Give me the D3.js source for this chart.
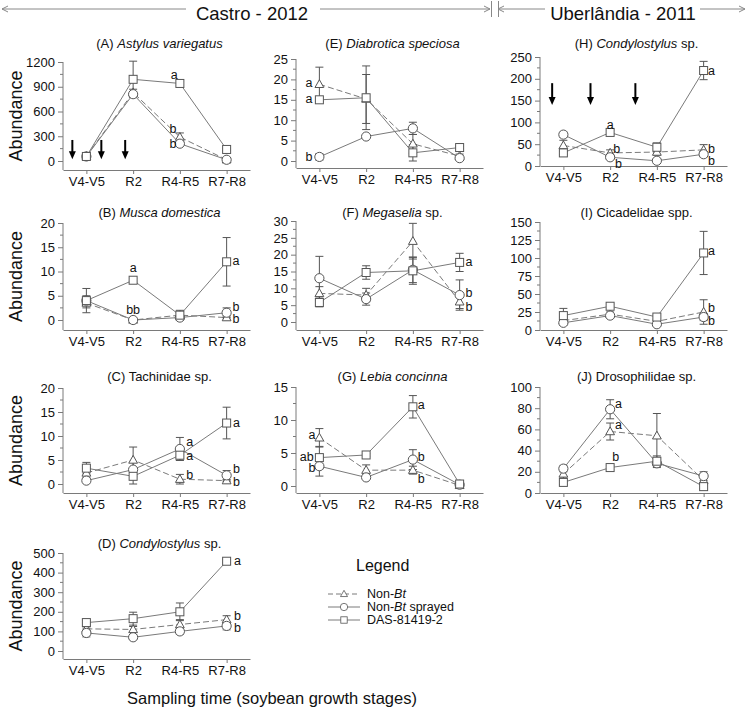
<!DOCTYPE html>
<html><head><meta charset="utf-8">
<script src="https://cdn.jsdelivr.net/npm/d3@7"></script>
<style>body{margin:0;background:#fff}</style>
</head><body>
<svg id="c" width="747" height="715"></svg>
<script>
// ---------- DATA ----------
const stages = ["V4-V5","R2","R4-R5","R7-R8"];
const seriesNames = ["Non-Bt","Non-Bt sprayed","DAS-81419-2"];
// each mean/err array: [Non-Bt, Non-Bt sprayed, DAS-81419-2] x stages
const aMean = [[60,830,290,15],[55,810,210,15],[55,990,940,140]];
const aErr  = [[8,40,50,5],[5,20,20,5],[5,220,30,15]];
const aLetters = [[1.88,1040,"a"],[1.85,390,"b"],[1.85,210,"b"]];
const aArrows = [-0.3,0.32,0.83];
const aArrowRange = [255,20];

const bMean = [[3.5,0,1,0.5],[4,0,0.5,1.5],[4,8.2,1,12]];
const bErr  = [[1,0,0.5,0.3],[2.5,0,0.5,1],[1,0.4,1,5]];
const bLetters = [[1.0,10.7,"a"],[1.0,2,"bb"],[3.2,12.2,"a"],[3.2,2.7,"b"],[3.2,0.3,"b"]];

const cMean = [[2.3,5,1,0.7],[0.7,3,7.3,1.8],[3.3,1.6,6,12.7]];
const cErr  = [[1,2.7,1,0.2],[0.3,1.5,2.4,1],[1.2,1.6,1,3.3]];
const cLetters = [[2.21,8.7,"a"],[2.21,5.8,"a"],[2.21,1.9,"b"],[3.21,12.8,"a"],[3.21,3.1,"b"],[3.21,0.5,"b"]];

const dMean = [[113,110,135,160],[92,70,100,128],[145,165,200,458]];
const dErr  = [[10,15,25,20],[20,12,15,20],[12,33,45,8]];
const dLetters = [[3.23,458,"a"],[3.23,180,"b"],[3.23,115,"b"]];

const eMean = [[18.8,15.2,4.2,1.2],[1,6,8,0.7],[15,15.5,2,3.3]];
const eErr  = [[4.2,6,2.3,0.5],[0.8,0.4,1.5,0.3],[0.5,7.8,2,0.3]];
const eLetters = [[-0.22,19.1,"a"],[-0.22,15.2,"a"],[-0.22,1,"b"]];

const fMean = [[8.5,8,24,6],[13,6.8,15.5,8],[5.8,14.7,15.2,17.7]];
const fErr  = [[2,2,5.3,2],[6.5,1.8,3.8,4.5],[1.3,2,4,2.7]];
const fLetters = [[3.2,17.7,"a"],[3.2,8.5,"b"],[3.2,4.6,"b"]];

const gMean = [[7.3,2.4,2.4,0.1],[3,1.3,4,0.2],[4.3,4.7,12,0.3]];
const gErr  = [[1.4,0.8,0.6,0.1],[1.5,0.3,1.5,0.1],[1.7,0.2,1.7,0.1]];
const gLetters = [[-0.16,7.8,"a"],[-0.27,4.4,"ab"],[-0.16,2.8,"b"],[2.18,12.2,"a"],[2.18,4.4,"b"],[2.18,1.1,"b"]];

const hMean = [[47,30,32,37],[72,20,12,27],[30,77,43,219]];
const hErr  = [[12,7,7,12],[6,5,3,6],[3,5,10,21]];
const hLetters = [[1.0,94,"a"],[1.14,38,"b"],[1.18,5,"b"],[3.17,219,"a"],[3.17,38,"b"],[3.17,12,"b"]];
const hArrows = [-0.24,0.58,1.54];
const hArrowRange = [190,140];

const iMean = [[13,22,12,25],[10,20,8,18],[20,33,18,107]];
const iErr  = [[5,3,3,17],[3,3,2,5],[10,3,3,30]];
const iLetters = [[3.17,110,"a"],[3.17,30,"b"],[3.17,12,"b"]];

const jMean = [[18,58,54,12],[23,79,28,16],[10,24,30,6]];
const jErr  = [[4,8,21,3],[3,9,4,4],[2,2,5,2]];
const jLetters = [[1.18,84,"a"],[1.18,64,"a"],[1.12,34,"b"]];

const titlePre  = ["(A) ","(B) ","(C) Tachinidae sp.","(D) ","(E) ","(F) ","(G) ","(H) ","(I) Cicadelidae spp.","(J) Drosophilidae sp."];
const titleItal = ["Astylus variegatus","Musca domestica","","Condylostylus","Diabrotica speciosa","Megaselia","Lebia concinna","Condylostylus","",""];
const titleSuffix = [""," ","", " sp.", "", " sp.", "", " sp.", "", ""];
const yMax  = [1200,20,20,500,25,30,15,250,150,100];
const yStep = [300,5,5,100,5,5,5,50,25,20];

// ---------- LAYOUT ----------
const FONT = "'Liberation Sans', Arial, Helvetica, sans-serif";
const LINE = "#7a7a7a", MARK = "#555", TXT = "#111";
const colX = [63, 296, 540];
const axisW = 187;
const rowTitleY = [43, 212, 376, 543];
const geo = [ // col,row,top,zero,bottom
  [0,0,62,161,170],[0,1,223,320,330],[0,2,388,484,493],[0,3,553,651,659],
  [1,0,59,161,168],[1,1,221,322,330],[1,2,387,486,493],
  [2,0,57,166,166],[2,1,222,330,330],[2,2,387,493,493]
];
const means = [aMean,bMean,cMean,dMean,eMean,fMean,gMean,hMean,iMean,jMean];
const errs  = [aErr,bErr,cErr,dErr,eErr,fErr,gErr,hErr,iErr,jErr];
const letters = [aLetters,bLetters,cLetters,dLetters,eLetters,fLetters,gLetters,hLetters,iLetters,jLetters];
const arrows = {0:[aArrows,aArrowRange], 7:[hArrows,hArrowRange]};

const svg = d3.select("#c").style("font-family", FONT);

function marker(sel, k) {
  if (k === 0) {
    sel.append("path").attr("d","M0,-4.6L4.4,3.2L-4.4,3.2Z");
  } else if (k === 1) {
    sel.append("circle").attr("r",4.6);
  } else {
    sel.append("rect").attr("x",-4).attr("y",-4).attr("width",8).attr("height",8);
  }
  sel.attr("fill","#fff").attr("stroke",MARK).attr("stroke-width",1);
}

geo.forEach((gm, pi) => {
  const [col,row,top,zero,bottom] = gm;
  const x0 = colX[col];
  const x = d3.scalePoint().domain(stages).range([x0, x0+axisW]).padding(0.5);
  const xi = d3.scaleLinear().domain([-0.5, 3.5]).range([x0, x0+axisW]);
  const y = d3.scaleLinear().domain([0, yMax[pi]]).range([zero, top]);
  const g = svg.append("g");

  // y axis
  const ticks = d3.range(0, yMax[pi] + yStep[pi]/2, yStep[pi]);
  const ya = g.append("g").attr("transform",`translate(${x0},0)`)
    .call(d3.axisLeft(y).tickValues(ticks).tickSize(5).tickPadding(3).tickFormat(d3.format("d")));
  ya.select(".domain").remove();
  ya.selectAll("line").attr("stroke",LINE);
  ya.selectAll("text").attr("font-size",13).attr("font-family",FONT).attr("fill",TXT);
  const minor = d3.range(yStep[pi]/2, yMax[pi], yStep[pi]);
  g.selectAll(".mn").data(minor).join("line")
    .attr("x1",x0-3).attr("x2",x0).attr("y1",d=>y(d)).attr("y2",d=>y(d)).attr("stroke",LINE);
  g.append("line").attr("x1",x0).attr("x2",x0).attr("y1",top).attr("y2",bottom).attr("stroke",LINE);

  // x axis
  const xa = g.append("g").attr("transform",`translate(0,${bottom})`)
    .call(d3.axisBottom(x).tickSize(4).tickSizeOuter(0).tickPadding(3));
  xa.select(".domain").attr("stroke",LINE);
  xa.selectAll("line").attr("stroke",LINE);
  xa.selectAll("text").attr("font-size",13).attr("font-family",FONT).attr("fill",TXT);

  // title
  const t = g.append("text").attr("x", x0 + axisW/2 + 3).attr("y", rowTitleY[row])
    .attr("text-anchor","middle").attr("dominant-baseline","central")
    .attr("font-size",13).attr("fill",TXT);
  t.append("tspan").text(titlePre[pi]);
  if (titleItal[pi]) t.append("tspan").attr("font-style","italic").text(titleItal[pi]);
  if (titleSuffix[pi].trim()) t.append("tspan").text(titleSuffix[pi]);

  // lines
  const line = d3.line().x((d,i)=>x(stages[i])).y(d=>y(d));
  means[pi].forEach((s,k) => {
    g.append("path").attr("d", line(s)).attr("fill","none").attr("stroke",LINE)
      .attr("stroke-width",1).attr("stroke-dasharray", k===0 ? "6,3" : null);
  });
  // error bars
  means[pi].forEach((s,k) => {
    s.forEach((v,i) => {
      const e = errs[pi][k][i];
      if (!e) return;
      const cx = x(stages[i]);
      g.append("line").attr("x1",cx).attr("x2",cx).attr("y1",y(v-e)).attr("y2",y(v+e)).attr("stroke",MARK);
      [v-e, v+e].forEach(w => g.append("line").attr("x1",cx-4).attr("x2",cx+4)
        .attr("y1",y(w)).attr("y2",y(w)).attr("stroke",MARK));
    });
  });
  // markers
  means[pi].forEach((s,k) => {
    s.forEach((v,i) => {
      const m = g.append("g").attr("transform",`translate(${x(stages[i])},${y(v)})`);
      marker(m,k);
    });
  });
  // letters
  letters[pi].forEach(([lx,ly,txt]) => {
    g.append("text").attr("x",xi(lx)).attr("y",y(ly)).attr("text-anchor","middle")
      .attr("dominant-baseline","central").attr("font-size",12.5).attr("fill",TXT).text(txt);
  });
  // arrows
  if (arrows[pi]) {
    const [ax, [v1, v2]] = arrows[pi];
    ax.forEach(a => {
      const cx = xi(a), y1 = y(v1), y2 = y(v2);
      g.append("line").attr("x1",cx).attr("x2",cx).attr("y1",y1).attr("y2",y2-6)
        .attr("stroke","#000").attr("stroke-width",2);
      g.append("path").attr("d",`M${cx-3.5},${y2-8}L${cx+3.5},${y2-8}L${cx},${y2}Z`).attr("fill","#000");
    });
  }
  // y label for first column
  if (col === 0) {
    svg.append("text").attr("transform",`translate(16,${(top+bottom)/2}) rotate(-90)`)
      .attr("text-anchor","middle").attr("dominant-baseline","central")
      .attr("font-size",18).attr("fill",TXT).text("Abundance");
  }
});

// x title
svg.append("text").attr("x",272).attr("y",698).attr("text-anchor","middle")
  .attr("dominant-baseline","central").attr("font-size",16.5).attr("fill",TXT)
  .text("Sampling time (soybean growth stages)");

// header
const HY = 9;
function hline(x1, x2, arrowAt) {
  svg.append("line").attr("x1",x1).attr("x2",x2).attr("y1",HY).attr("y2",HY).attr("stroke","#888");
  const ax = arrowAt === "l" ? x1 : x2, d = arrowAt === "l" ? 6 : -6;
  svg.append("path").attr("d",`M${ax+d},${HY-3}L${ax},${HY}L${ax+d},${HY+3}`)
    .attr("fill","none").attr("stroke","#888");
}
hline(2, 186, "l");
hline(320, 490, "r");
hline(498, 545, "l");
hline(700, 745, "r");
[491.5, 498.5].forEach(xv => svg.append("line").attr("x1",xv).attr("x2",xv).attr("y1",1).attr("y2",17).attr("stroke","#888"));
svg.append("text").attr("x",252).attr("y",13).attr("text-anchor","middle").attr("dominant-baseline","central")
  .attr("font-size",18.5).attr("fill",TXT).text("Castro - 2012");
svg.append("text").attr("x",623).attr("y",13).attr("text-anchor","middle").attr("dominant-baseline","central")
  .attr("font-size",18.5).attr("fill",TXT).text("Uberlândia - 2011");

// legend
svg.append("text").attr("x",356).attr("y",565).attr("dominant-baseline","central")
  .attr("font-size",16).attr("fill",TXT).text("Legend");
const legY = [594, 607, 620];
seriesNames.forEach((nm,k) => {
  const yy = legY[k];
  svg.append("line").attr("x1",328).attr("x2",360).attr("y1",yy).attr("y2",yy)
    .attr("stroke",LINE).attr("stroke-dasharray", k===0 ? "5,3" : null);
  const m = svg.append("g").attr("transform",`translate(344,${yy}) scale(0.8)`);
  marker(m,k);
  const t = svg.append("text").attr("x",367).attr("y",yy).attr("dominant-baseline","central")
    .attr("font-size",12.5).attr("fill",TXT);
  if (k < 2) {
    t.append("tspan").text("Non-");
    t.append("tspan").attr("font-style","italic").text("Bt");
    if (k === 1) t.append("tspan").text(" sprayed");
  } else t.text(nm);
});
</script>
</body></html>
